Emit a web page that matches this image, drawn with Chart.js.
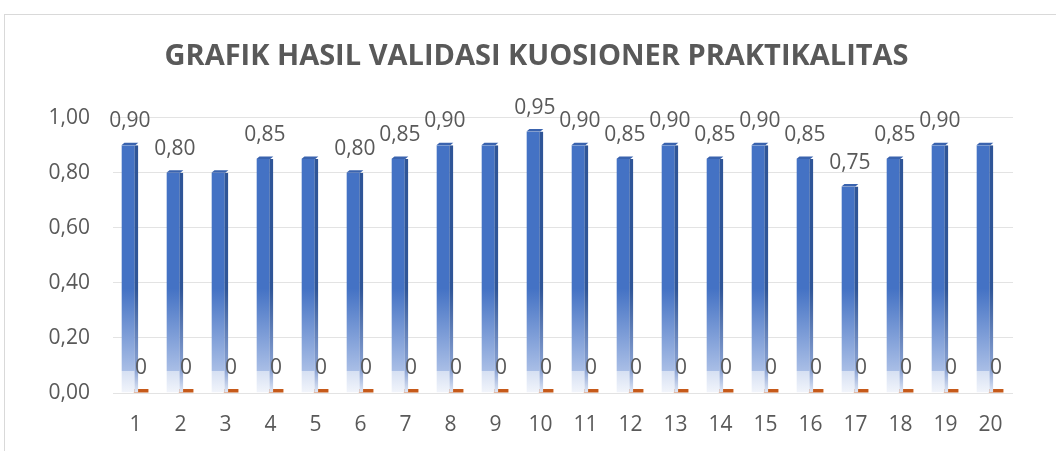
<!DOCTYPE html>
<html>
<head>
<meta charset="utf-8">
<script src="https://cdn.jsdelivr.net/npm/chart.js@4.4.1/dist/chart.umd.min.js"></script>
<style>
  html, body { margin: 0; padding: 0; background: #fff; }
  .frame { position: absolute; left: 4px; top: 14px; width: 1060px; height: 450px;
           border-left: 1px solid #d9d9d9; border-top: 1px solid #d9d9d9; }
  .wrap { position: absolute; left: 5px; top: 15px; width: 1051px; height: 436px; }
</style>
</head>
<body>
<div class="frame"></div>
<div class="wrap"><canvas id="chart"></canvas></div>
<script>
// Data
const categories = ['1','2','3','4','5','6','7','8','9','10','11','12','13','14','15','16','17','18','19','20'];
const nilai = [0.90, 0.80, 0.80, 0.85, 0.85, 0.80, 0.85, 0.90, 0.90, 0.95, 0.90, 0.85, 0.90, 0.85, 0.90, 0.85, 0.75, 0.85, 0.90, 0.90];
const nol = [0, 0, 0, 0, 0, 0, 0, 0, 0, 0, 0, 0, 0, 0, 0, 0, 0, 0, 0, 0];
// which value labels of the first series are visible in the picture
const labelShown = [1, 1, 0, 1, 0, 1, 1, 1, 0, 1, 1, 1, 1, 1, 1, 1, 1, 1, 1, 0];

const textColor = '#595959';
const fontFamily = '"Open Sans", sans-serif';
const fmt = v => v.toFixed(2).replace('.', ',');

function blueFill(ctx, dark) {
  const area = ctx.chart.chartArea;
  if (!area) return dark ? '#2F5597' : '#4472C4';
  const y = ctx.chart.scales.y;
  const g = ctx.chart.ctx.createLinearGradient(0, area.top, 0, area.bottom);
  const p = v => (y.getPixelForValue(v) - area.top) / (area.bottom - area.top);
  if (dark) {
    g.addColorStop(0, '#2F5597');
    g.addColorStop(p(0.38), '#2F5597');
    g.addColorStop(p(0.08), '#8EA6D6');
    g.addColorStop(1, '#E4EAF6');
  } else {
    g.addColorStop(0, '#4472C4');
    g.addColorStop(p(0.38), '#4472C4');
    g.addColorStop(p(0.081), '#A9BEE6');
    g.addColorStop(p(0.079), '#D6E0F3');
    g.addColorStop(1, '#F2F5FB');
  }
  return g;
}

// top face of the blue columns + value labels
const extras = {
  id: 'extras',
  afterDatasetsDraw(chart) {
    const c = chart.ctx;
    const m0 = chart.getDatasetMeta(0);
    m0.data.forEach(bar => {
      const l = bar.x - bar.width / 2, r = bar.x + bar.width / 2;
      c.fillStyle = '#3A63AE';
      c.beginPath();
      c.moveTo(l, bar.y);
      c.lineTo(l + 3, bar.y - 2.5);
      c.lineTo(r, bar.y - 2.5);
      c.lineTo(r - 3, bar.y);
      c.closePath();
      c.fill();
    });
    c.save();
    c.font = '21px ' + fontFamily;
    c.fillStyle = textColor;
    c.textAlign = 'center';
    c.textBaseline = 'middle';
    m0.data.forEach((bar, i) => {
      if (labelShown[i]) c.fillText(fmt(nilai[i]), bar.x, bar.y - 24);
    });
    const m1 = chart.getDatasetMeta(1);
    m1.data.forEach((bar, i) => {
      c.fillText(String(nol[i]), bar.x, chart.scales.y.getPixelForValue(0) - 25);
    });
    c.restore();
  }
};

new Chart(document.getElementById('chart'), {
  type: 'bar',
  data: {
    labels: categories,
    datasets: [{
      label: 'Nilai',
      data: nilai,
      backgroundColor: ctx => blueFill(ctx, false),
      borderColor: ctx => blueFill(ctx, true),
      borderWidth: { top: 0, right: 4, bottom: 0, left: 0 },
      borderSkipped: false,
      categoryPercentage: 0.5,
      barPercentage: 1.5,
    }, {
      label: 'Seri 2',
      data: nol,
      backgroundColor: '#C65A1A',
      minBarLength: 4,
      categoryPercentage: 0.5,
      barPercentage: 1.3,
    }]
  },
  options: {
    responsive: true,
    maintainAspectRatio: false,
    animation: false,
    layout: { padding: { left: 12, right: 0, top: 0, bottom: 0 } },
    plugins: {
      legend: { display: false },
      tooltip: { enabled: false },
      title: {
        display: true,
        text: 'GRAFIK HASIL VALIDASI KUOSIONER PRAKTIKALITAS',
        color: textColor,
        font: { family: fontFamily, size: 29, weight: 'bold' },
        padding: { top: 24, bottom: 44 }
      }
    },
    scales: {
      x: {
        grid: { display: false },
        border: { display: false },
        ticks: { color: textColor, font: { family: fontFamily, size: 21 }, padding: 11 },
        afterFit: s => { s.height = 58; }
      },
      y: {
        min: 0,
        max: 1,
        ticks: {
          stepSize: 0.2,
          color: textColor,
          font: { family: fontFamily, size: 21 },
          padding: 23,
          callback: v => fmt(v)
        },
        grid: { color: '#E3E3E3', lineWidth: 1, drawTicks: false },
        border: { display: false },
        afterFit: s => { s.width = 96; }
      },
      // empty right margin so the title centres over the whole frame
      yRight: {
        position: 'right',
        grid: { display: false },
        border: { display: false },
        ticks: { display: false },
        afterFit: s => { s.width = 43; }
      }
    }
  },
  plugins: [extras]
});
</script>
</body>
</html>
